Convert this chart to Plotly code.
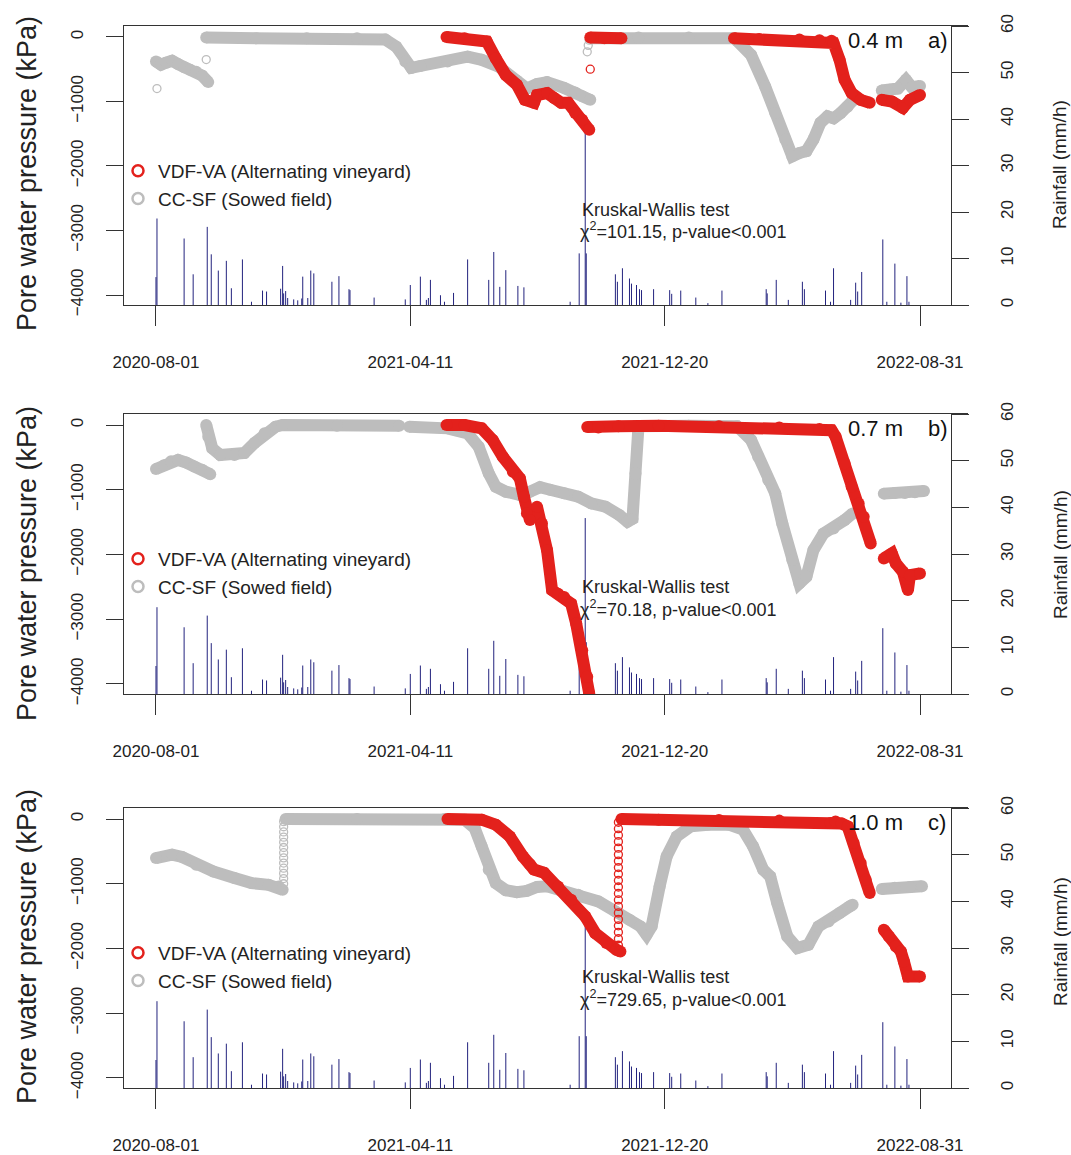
import pandas as pd
import plotly.graph_objects as go

W, H = 1071, 1155
START = pd.Timestamp("2020-08-01")

# ------------------------------------------------------------------ data
tick_dates = ["2020-08-01", "2021-04-11", "2021-12-20", "2022-08-31"]
depth_labels = ["0.4 m", "0.7 m", "1.0 m"]
panel_tags = ["a)", "b)", "c)"]
kw_chi2 = ["101.15", "70.18", "729.65"]
pwp_ticks = [0, -1000, -2000, -3000, -4000]
rain_ticks = [0, 10, 20, 30, 40, 50, 60]
series_names = ["VDF-VA (Alternating vineyard)", "CC-SF (Sowed field)"]

# rainfall (days since 2020-08-01, mm/h)
rain_day = [0, 1, 28, 37, 51, 55, 62, 70, 75, 86,
            95, 106, 110, 124, 126, 127, 129, 131, 137, 141,
            145, 146, 151, 154, 157, 175, 182, 192, 193, 217,
            248, 253, 263, 269, 271, 273, 283, 287, 296, 310,
            331, 336, 342, 348, 360, 366, 412, 421, 427, 428,
            457, 459, 464, 471, 473, 478, 481, 483, 495, 511,
            513, 522, 537, 549, 563, 607, 608, 617, 629, 643,
            645, 666, 671, 674, 691, 696, 698, 702, 723, 727,
            735, 741, 747, 749]
rain_mm = [6.0, 18.6, 14.3, 6.6, 16.8, 10.9, 7.4, 9.5, 3.6, 9.8,
           0.7, 3.1, 2.9, 3.5, 8.4, 2.5, 3.0, 1.5, 1.2, 1.0,
           1.4, 6.1, 1.5, 7.4, 6.8, 5.0, 6.2, 3.4, 3.2, 1.6,
           1.2, 4.3, 6.1, 1.1, 1.5, 5.4, 2.1, 0.7, 2.6, 9.8,
           5.4, 11.4, 3.9, 7.5, 4.1, 3.8, 0.7, 11.1, 37.7, 11.1,
           6.6, 5.0, 7.9, 5.7, 4.6, 4.3, 3.4, 3.2, 3.4, 3.2,
           2.4, 3.1, 1.6, 0.4, 3.1, 3.4, 2.5, 5.4, 1.1, 5.0,
           3.4, 3.1, 0.7, 7.9, 1.1, 4.8, 2.9, 7.1, 14.1, 0.7,
           8.9, 0.5, 6.2, 0.7]

# ---- panel a (0.4 m)
gray_a_day = [0, 5, 10, 16, 22, 28, 34, 40, 46, 52, None,
              50, 100, 150, 200, 228, 239, 248, 254, 263, 290, 310, 324, 341, 359, 369,
              379, 389, 406, 417, 424, 432, None,
              433, 480, 530, 575, 578, 592, 606, 616, 626, 633, 640, 647, 654, 661, 668,
              674, 681, 688, 694, None,
              722, 730, 738, 746, 752, 760]
gray_a_kpa = [-380, -430, -400, -370, -420, -470, -510, -540, -600, -700, None,
              -10, -20, -20, -20, -40, -150, -380, -480, -450, -380, -305, -355, -460, -680, -800,
              -730, -700, -790, -860, -920, -975, None,
              -20, -10, -10, -20, -60, -280, -770, -1180, -1590, -1850, -1800, -1770, -1590, -1330, -1230,
              -1260, -1180, -1080, -975, None,
              -830, -820, -800, -665, -780, -760]
gray_a_pt_day = [1, 50, 429, 430, 431]
gray_a_pt_kpa = [-800, -350, -230, -130, -50]

red_a_day = [289, 307, 329, 338, 348, 359, 367, 376, 379, 389, 396, 403, 410, 417, 424, 431, None,
             432, 446, 463, None,
             575, 600, 640, 660, 672, 674, 680, 685, 692, 701, 710, None,
             722, 732, 743, 750, 760]
red_a_kpa = [0, -20, -70, -330, -590, -740, -975, -1020, -900, -870, -945, -1020, -1020, -1180, -1285, -1440, None,
             -10, -20, -20, None,
             -20, -30, -40, -50, -60, -95, -355, -665, -870, -975, -1020, None,
             -975, -1000, -1100, -975, -900]
red_a_pt_day = [432]
red_a_pt_kpa = [-500]

# ---- panel b (0.7 m)
gray_b_day = [0, 8, 15, 22, 30, 38, 46, 54, None,
              50, 52, 56, 64, 78, 88, 98, 108, 119, 126, 180, 242, None,
              252, 290, 310, 321, 331, 338, 348, 362, 372, 382, 392, 406, 420, 433, 447, 461, 469,
              474, 477, 480, 530, 578, 592, 599, 609, 616, 623, 633, 640, 647, 654, 664, 674, 685, 693, None,
              724, 735, 745, 755, 764]
gray_b_kpa = [-680, -620, -560, -540, -580, -640, -690, -760, None,
              0, -180, -360, -464, -464, -433, -278, -129, -26, 0, -10, -10, None,
              -26, -52, -129, -335, -747, -953, -1030, -1080, -1030, -960, -1000, -1056, -1108, -1211, -1262, -1391, -1494,
              -1450, -750, -20, -10, -20, -232, -490, -850, -1056, -1520, -2087, -2447, -2345, -1932, -1675, -1597, -1468, -1365, None,
              -1060, -1050, -1050, -1040, -1020]

red_b_day = [289, 307, 324, 335, 345, 355, 362, 366, 369, 372, 379, 384, 389, 394, 400, 406, 413, 418, 424, 429, 431, None,
             429, 440, 460, 500, 560, 620, 660, 672, 676, 685, 692, 699, 704, 711, None,
             724, 732, 736, 743, 748, 750, 760]
red_b_kpa = [0, 0, -52, -232, -490, -722, -825, -1108, -1365, -1468, -1262, -1520, -1932, -2550, -2605, -2656, -2760, -3067, -3478, -3890, -4148, None,
             -30, -40, -20, -10, -20, -40, -60, -80, -180, -593, -953, -1211, -1417, -1829, None,
             -2061, -1984, -2138, -2268, -2550, -2319, -2293]

# ---- panel c (1.0 m)
gray_c_day = [0, 16, 26, 40, 57, 78, 95, 112, 122, 126, None,
              129, 200, 287, 307, 317, 324, 331, 338, 348, 359, 369, 379, 389, 403, 420, 440, 457, 471,
              482, 488, 493, 501, 508, 518, 532, 549, 570, 584, 594, 604, 611, 618, 628, 638, 649, 659,
              669, 680, 690, 693, None,
              722, 735, 750, 762]
gray_c_kpa = [-603, -552, -587, -706, -810, -912, -990, -1016, -1042, -1093, None,
              0, 0, 0, -10, -140, -423, -783, -990, -1100, -1130, -1110, -1050, -1040, -1093, -1170, -1273, -1428, -1557,
              -1660, -1789, -1660, -1042, -578, -269, -114, -88, -88, -165, -423, -783, -887, -1299, -1815, -1994, -1943, -1660,
              -1583, -1453, -1351, -1325, None,
              -1080, -1060, -1050, -1040]
gray_c_pt_day = [127] * 13
gray_c_pt_kpa = [-1000, -920, -840, -760, -680, -600, -520, -440, -360, -280, -200, -120, -40]

red_c_day = [290, 324, 338, 352, 365, 372, 376, 386, 400, 413, 427, 437, 448, 458, 462, None,
             463, 500, 560, 620, 671, 676, 682, 688, 694, 701, 706, 710, None,
             724, 729, 736, 741, 744, 748, 760]
red_c_kpa = [0, -10, -88, -269, -578, -700, -780, -830, -1042, -1248, -1506, -1763, -1917, -2020, -2046, None,
             0, -10, -15, -25, -62, -40, -70, -114, -371, -680, -938, -1144, None,
             -1711, -1815, -1970, -2046, -2200, -2433, -2433]
red_c_pt_day = [460] * 20
red_c_pt_kpa = [-1950, -1850, -1750, -1650, -1550, -1450, -1350, -1250, -1150, -1050,
                -950, -850, -750, -650, -550, -450, -350, -250, -150, -50]

panels = [
    dict(gray=(gray_a_day, gray_a_kpa), gray_pt=(gray_a_pt_day, gray_a_pt_kpa),
         red=(red_a_day, red_a_kpa), red_pt=(red_a_pt_day, red_a_pt_kpa)),
    dict(gray=(gray_b_day, gray_b_kpa), gray_pt=([], []),
         red=(red_b_day, red_b_kpa), red_pt=([], [])),
    dict(gray=(gray_c_day, gray_c_kpa), gray_pt=(gray_c_pt_day, gray_c_pt_kpa),
         red=(red_c_day, red_c_kpa), red_pt=(red_c_pt_day, red_c_pt_kpa)),
]

for a, b in [(rain_day, rain_mm), (gray_a_day, gray_a_kpa), (red_a_day, red_a_kpa),
             (gray_b_day, gray_b_kpa), (red_b_day, red_b_kpa),
             (gray_c_day, gray_c_kpa), (red_c_day, red_c_kpa)]:
    assert len(a) == len(b), (len(a), len(b))

# ------------------------------------------------------------------ styling / geometry
RED = "#e3211c"
GRAY = "#bdbdbd"
NAVY = "#23237e"
AX = "#333333"
FONT = "Liberation Sans, Arial, Helvetica, sans-serif"

panel_top = [26, 414, 808]
panel_bot = [305, 694, 1088]
left_title_y = [174, 564, 947]
right_title_y = [165, 555, 942]
kw_y = [(210, 231), (587, 608), (977, 998)]
X_LEFT, X_RIGHT, RAIN_AX = 124, 968, 950.7
X_RANGE = ["2020-06-30 04:48", "2022-10-17 18:00"]


def fx(px):
    return px / W


def fy(py):
    return 1 - py / H


def to_dates(days):
    return [None if d is None else (START + pd.Timedelta(days=d)).strftime("%Y-%m-%d %H:%M") for d in days]


fig = go.Figure()
layout = dict(width=W, height=H, margin=dict(l=0, r=0, t=0, b=0, pad=0, autoexpand=False),
              paper_bgcolor="white", plot_bgcolor="white", template="none",
              font=dict(family=FONT, color="#222222"), annotations=[])

for i, p in enumerate(panels):
    xid = "x" if i == 0 else f"x{i + 1}"
    ry = "y" if i == 0 else f"y{2 * i + 1}"
    py = f"y{2 * i + 2}"
    xkey = "xaxis" if i == 0 else f"xaxis{i + 1}"
    rkey = "yaxis" if i == 0 else f"yaxis{2 * i + 1}"
    pkey = f"yaxis{2 * i + 2}"
    leg = "legend" if i == 0 else f"legend{i + 1}"

    # rainfall as vertical spikes
    rx, ryv = [], []
    for d, v in zip(to_dates(rain_day), rain_mm):
        rx += [d, d, None]
        ryv += [0, v, None]
    fig.add_trace(go.Scatter(x=rx, y=ryv, mode="lines", line=dict(color=NAVY, width=1),
                             xaxis=xid, yaxis=ry, showlegend=False, hoverinfo="skip"))

    # pore water pressure series
    for key, col in [("gray", GRAY), ("red", RED)]:
        d, v = p[key]
        fig.add_trace(go.Scatter(x=to_dates(d), y=v, mode="lines+markers",
                                 line=dict(color=col, width=12),
                                 marker=dict(color=col, size=12),
                                 connectgaps=False, xaxis=xid, yaxis=py, showlegend=False))
        d2, v2 = p[key + "_pt"]
        if d2:
            fig.add_trace(go.Scatter(x=to_dates(d2), y=v2, mode="markers",
                                     marker=dict(symbol="circle-open", color=col, size=8,
                                                 line=dict(width=1.3)),
                                     xaxis=xid, yaxis=py, showlegend=False))

    # legend entries
    for name, col in zip(series_names, [RED, GRAY]):
        fig.add_trace(go.Scatter(x=[None], y=[None], mode="markers", name=name,
                                 marker=dict(symbol="circle-open", color=col, size=11,
                                             line=dict(width=2.5)),
                                 xaxis=xid, yaxis=py, legend=leg, showlegend=True))
    layout[leg] = dict(x=fx(118), y=fy(panel_top[i] + 126), xanchor="left", yanchor="top",
                       bgcolor="rgba(0,0,0,0)", font=dict(size=19, family=FONT, color="#222"),
                       tracegroupgap=0, itemwidth=30, traceorder="normal")

    dom = [fy(panel_bot[i]), fy(panel_top[i])]
    layout[xkey] = dict(domain=[fx(X_LEFT), fx(X_RIGHT)], anchor=ry, type="date", range=X_RANGE,
                        tickvals=tick_dates, ticktext=tick_dates, ticks="outside", ticklen=20,
                        tickwidth=1.2, tickcolor=AX, showline=True, linecolor=AX, linewidth=1.2,
                        mirror=True, showgrid=False, zeroline=False, automargin=False,
                        tickfont=dict(size=17, family=FONT, color="#222"), ticklabelstandoff=21)
    layout[rkey] = dict(domain=dom, anchor="free", position=fx(RAIN_AX), side="right",
                        range=[0, 60], tickvals=rain_ticks, ticks="outside", ticklen=17,
                        tickwidth=1.2, tickcolor=AX, showline=True, linecolor=AX, linewidth=1.2,
                        showgrid=False, zeroline=False, tickangle=-90, automargin=False,
                        tickfont=dict(size=17, family=FONT, color="#222"), ticklabelstandoff=24)
    layout[pkey] = dict(overlaying=ry, anchor=xid, side="left", range=[-4155, 170],
                        tickvals=pwp_ticks, ticks="outside", ticklen=17, tickwidth=1.2, tickcolor=AX,
                        showline=True, linecolor=AX, linewidth=1.2, showgrid=False, zeroline=False,
                        tickangle=-90, tickfont=dict(size=17, family=FONT, color="#222"),
                        ticklabelstandoff=16, automargin=False)

    ann = layout["annotations"]
    ann.append(dict(x=fx(27), y=fy(left_title_y[i]), xref="paper", yref="paper",
                    xanchor="center", yanchor="middle",
                    text="Pore water pressure (kPa)", textangle=-90, showarrow=False,
                    font=dict(size=27, family=FONT, color="#222")))
    ann.append(dict(x=fx(1060), y=fy(right_title_y[i]), xref="paper", yref="paper",
                    xanchor="center", yanchor="middle",
                    text="Rainfall (mm/h)", textangle=-90, showarrow=False,
                    font=dict(size=19, family=FONT, color="#222")))
    ann.append(dict(x=fx(905), y=fy(panel_top[i] + 14), xref="paper", yref="paper",
                    text=depth_labels[i], xanchor="right", yanchor="middle", showarrow=False,
                    font=dict(size=22, family=FONT, color="#111")))
    ann.append(dict(x=fx(926), y=fy(panel_top[i] + 14), xref="paper", yref="paper",
                    text=panel_tags[i], xanchor="left", yanchor="middle", showarrow=False,
                    font=dict(size=22, family=FONT, color="#111")))
    ann.append(dict(x=fx(580), y=fy(kw_y[i][0]), xref="paper", yref="paper",
                    text="Kruskal-Wallis test", xanchor="left", yanchor="middle", showarrow=False,
                    font=dict(size=18, family=FONT, color="#222")))
    ann.append(dict(x=fx(578), y=fy(kw_y[i][1]), xref="paper", yref="paper",
                    text=f"χ<sup>2</sup>={kw_chi2[i]}, p-value<0.001", xanchor="left",
                    yanchor="middle", showarrow=False, font=dict(size=18, family=FONT, color="#222")))

fig.update_layout(**layout)
fig.write_html("out.html", config={"displayModeBar": False},
               post_script="document.body.style.margin='0px';")
